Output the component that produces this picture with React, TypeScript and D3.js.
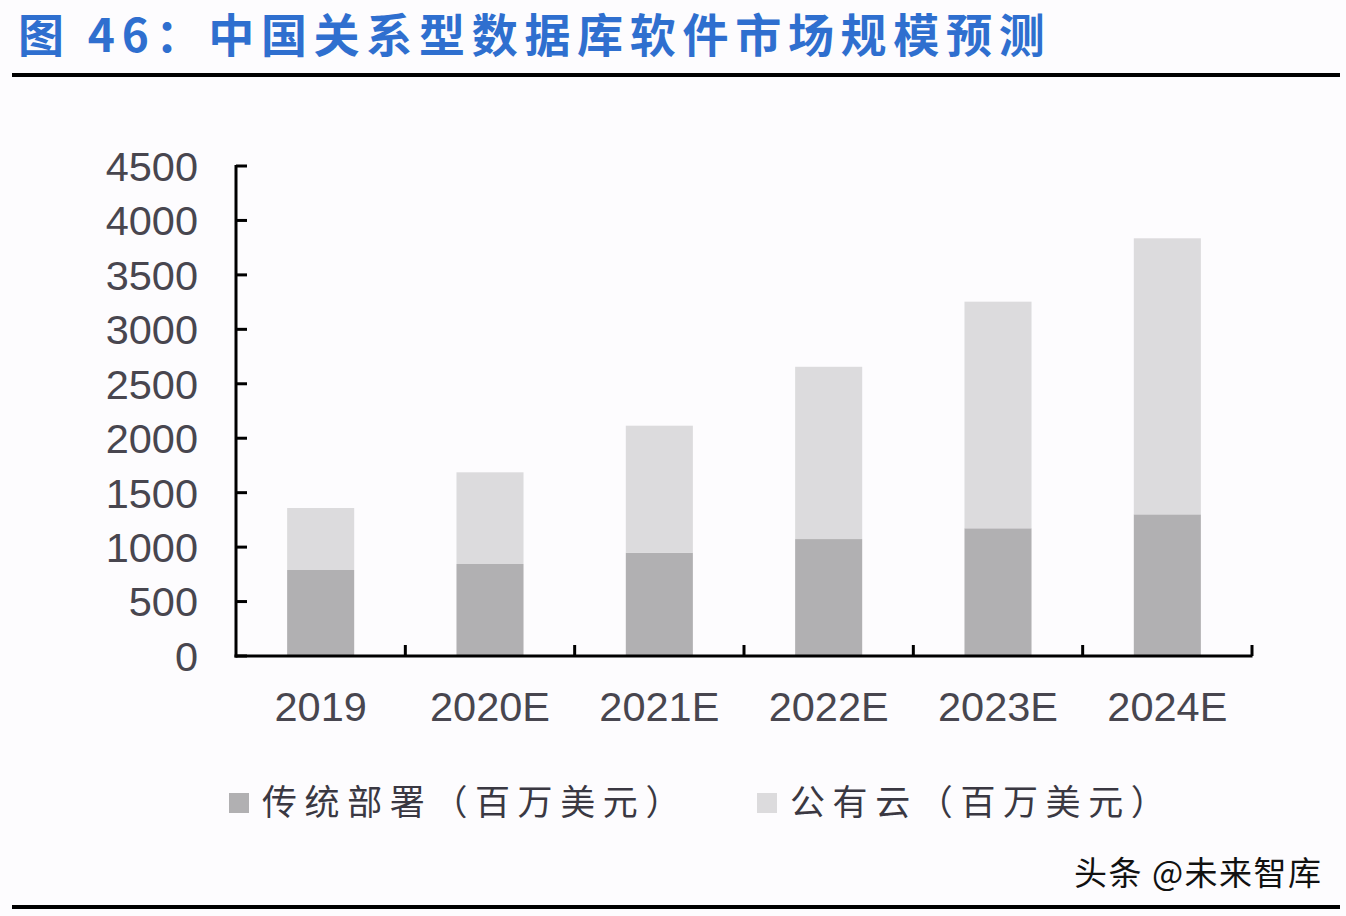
import React from "react";
import * as d3 from "d3";

const categories = ["2019", "2020E", "2021E", "2022E", "2023E", "2024E"];
const traditional = [790, 845, 949, 1074, 1173, 1301];
const publicCloud = [569, 842, 1166, 1582, 2081, 2535];
const yTicks = [0, 500, 1000, 1500, 2000, 2500, 3000, 3500, 4000, 4500];
const seriesNames = ["传统部署（百万美元）", "公有云（百万美元）"];
const titleText = "图 46：中国关系型数据库软件市场规模预测";
const sourceText = "头条 @未来智库";

const W = 1346;
const H = 916;
const colors = ["#b1b0b2", "#dcdbdd"];

export default function App() {
  const x = d3
    .scaleBand<string>()
    .domain(categories)
    .range([236, 1252])
    .paddingInner(0.604)
    .paddingOuter(0.302);
  const y = d3.scaleLinear().domain([0, 4500]).range([656, 166]);

  const rows = categories.map((c, i) => ({ cat: c, trad: traditional[i], cloud: publicCloud[i] }));
  const stack = d3.stack<any>().keys(["trad", "cloud"])(rows);

  const step = x.step();
  const boundaries = categories.map((c) => (x(c) as number) + x.bandwidth() + (step - x.bandwidth()) / 2);

  const axisFont = "'Liberation Sans', Arial, sans-serif";
  const cjkFont = "'Noto Sans CJK SC', sans-serif";

  return (
    <svg
      width={W}
      height={H}
      style={{ position: "absolute", left: 0, top: 0, background: "#fdfcfe" }}
    >
      <rect x={0} y={0} width={W} height={H} fill="#fdfcfe" />
      <text
        x={18}
        y={52}
        fontFamily={cjkFont}
        fontWeight={700}
        fontSize={46}
        fill="#2f6fcf"
        letterSpacing={6.7}
      >
        {titleText}
      </text>
      <line x1={12} x2={1340} y1={75} y2={75} stroke="#000" strokeWidth={4} />

      {stack.map((s, si) =>
        s.map((d, i) => (
          <rect
            key={`${si}-${i}`}
            x={x(categories[i])}
            y={y(d[1])}
            width={x.bandwidth()}
            height={y(d[0]) - y(d[1])}
            fill={colors[si]}
          />
        ))
      )}

      {/* y axis */}
      <line x1={236} x2={236} y1={165} y2={657.5} stroke="#000" strokeWidth={3} />
      {yTicks.map((t) => (
        <g key={t}>
          <line x1={236} x2={247} y1={y(t)} y2={y(t)} stroke="#000" strokeWidth={3} />
          <text
            x={198}
            y={y(t)}
            dy="0.36em"
            textAnchor="end"
            fontFamily={axisFont}
            fontSize={41.5}
            fill="#48464f"
          >
            {t}
          </text>
        </g>
      ))}

      {/* x axis */}
      <line x1={234.5} x2={1252.5} y1={656} y2={656} stroke="#000" strokeWidth={3} />
      {boundaries.map((b, i) => (
        <line key={i} x1={b} x2={b} y1={656} y2={645} stroke="#000" strokeWidth={3} />
      ))}
      {categories.map((c) => (
        <text
          key={c}
          x={(x(c) as number) + x.bandwidth() / 2}
          y={721}
          textAnchor="middle"
          fontFamily={axisFont}
          fontSize={41.5}
          fill="#48464f"
        >
          {c}
        </text>
      ))}

      {/* legend */}
      <rect x={229} y={793} width={20} height={20} fill={colors[0]} />
      <text x={262} y={815} fontFamily={cjkFont} fontSize={35} fill="#3a3842" letterSpacing={7.6}>
        {seriesNames[0]}
      </text>
      <rect x={757} y={793} width={20} height={20} fill={colors[1]} />
      <text x={790} y={815} fontFamily={cjkFont} fontSize={35} fill="#3a3842" letterSpacing={7.6}>
        {seriesNames[1]}
      </text>

      <text x={1074} y={885} fontFamily={cjkFont} fontSize={33} fill="#111" letterSpacing={1.5}>
        {sourceText}
      </text>
      <line x1={12} x2={1340} y1={907} y2={907} stroke="#000" strokeWidth={4} />
    </svg>
  );
}
